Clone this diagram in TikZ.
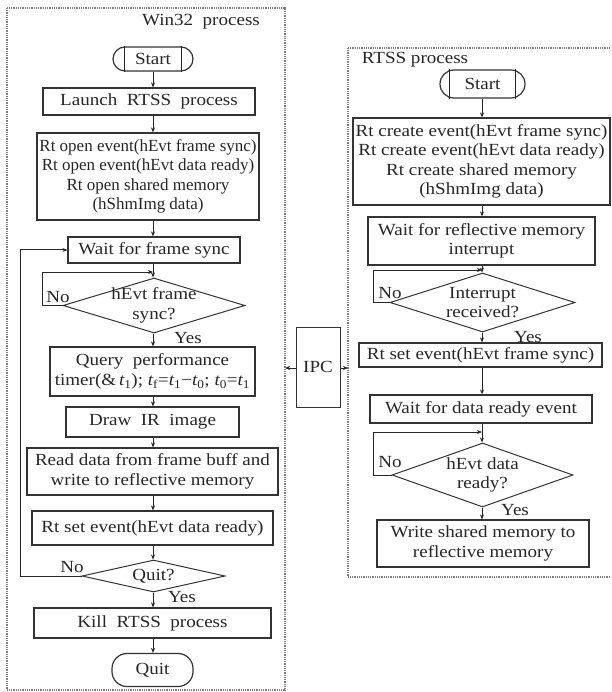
\documentclass[tikz,border=0pt]{standalone}
\usepackage{fontspec}
\setmainfont{Liberation Serif}
\newfontfamily\widefont[FakeStretch=1.12]{Liberation Serif}
\usetikzlibrary{shapes.geometric,arrows.meta}
\newcommand{\tv}[1]{{\itshape t}\textsubscript{#1}}
\begin{document}
\begin{tikzpicture}[x=1pt,y=-1pt,
  every node/.style={font=\widefont\fontsize{17}{19.5}\selectfont, text=black!85},
  plainfont/.style={font=\rmfamily\fontsize{17}{19.5}\selectfont},
  box/.style={draw=black!80, line width=1.2pt, inner sep=0pt, align=center},
  dec/.style={draw=black!80, line width=1pt, shape=diamond, inner sep=0pt},
  dtext/.style={align=center, inner sep=0pt},
  lbl/.style={inner sep=0pt},
  arr/.style={-{Stealth[length=5pt,width=4pt]}, line width=1pt, draw=black!85},
  ln/.style={line width=1pt, draw=black!85},
  frm/.style={draw=black!50, dash pattern=on 1pt off 0.8pt, line width=1.2pt}]
\useasboundingbox (0,0) rectangle (611,692);
\begin{scope}
\clip (0,0) rectangle (611,692);
% frames
\draw[frm] (7,8) rectangle (285,690);
\draw[frm] (348,48) rectangle (625,577);
\end{scope}
\node[lbl] (win) at (201,22) {Win32\ \ process};
\node[lbl] (rtss) at (415,60) {RTSS process};

% ---------- left column ----------
\node[box, rounded corners=12pt, minimum width=80pt, minimum height=24pt] (s1) at (153,59) {Start};
\draw[ln] ([xshift=12pt]s1.north west) -- ([xshift=12pt]s1.south west);
\draw[ln] ([xshift=-12pt]s1.north east) -- ([xshift=-12pt]s1.south east);
\node[box, minimum width=212pt, minimum height=27pt] (launch) at (149,101.5) {Launch\ \ RTSS\ \ process};
\node[box, plainfont, minimum width=222pt, minimum height=87pt] (open) at (148,176.5) {Rt open event(hEvt frame sync)\\Rt open event(hEvt data ready)\\Rt open shared memory\\(hShmImg data)};
\node[box, minimum width=172pt, minimum height=26pt] (waitfs) at (154,250) {Wait\ for\ frame\ sync};
\node[dec, minimum width=182pt, minimum height=55pt] (d1) at (154,305.5) {};
\node[dtext] (d1t) at (154,305.5) {hEvt\ frame\\sync?};
\node[box, minimum width=205pt, minimum height=49pt] (query) at (152.5,371.5) {Query\ \ performance\\timer(\&\,\tv{1}); \tv{f}=\tv{1}−\tv{0}; \tv{0}=\tv{1}};
\node[box, minimum width=173pt, minimum height=30pt] (draw) at (152.5,422) {Draw\ \ IR\ \ image};
\node[box, minimum width=251pt, minimum height=47pt] (read) at (152.5,471.5) {Read data from frame buff and\\write to reflective memory};
\node[box, minimum width=241pt, minimum height=34pt] (setev) at (152.5,528) {Rt set event(hEvt data ready)};
\node[dec, minimum width=143pt, minimum height=32pt] (d2) at (153.5,576) {};
\node[dtext] (d2t) at (153.5,576) {Quit?};
\node[box, minimum width=237pt, minimum height=30pt] (kill) at (152.5,623) {Kill\ \ RTSS\ \ process};
\node[box, rounded corners=15pt, minimum width=81pt, minimum height=33pt] (quit) at (152.5,670) {Quit};

\coordinate (c1) at (153,272);
\draw[arr] (s1.south) -- (launch.north -| s1.south);
\draw[arr] (launch.south -| 153,0) -- (open.north -| 153,0);
\draw[arr] (open.south -| 153,0) -- (waitfs.north -| 153,0);
\draw[arr] (waitfs.south -| 153,0) -- (d1.north -| 153,0);
\draw[arr] (d1.south -| 153,0) -- (query.north -| 153,0);
\draw[arr] (query.south -| 153,0) -- (draw.north -| 153,0);
\draw[arr] (draw.south -| 153,0) -- (read.north -| 153,0);
\draw[arr] (read.south -| 153,0) -- (setev.north -| 153,0);
\draw[arr] (setev.south -| 153,0) -- (d2.north -| 153,0);
\draw[arr] (d2.south -| 153,0) -- (kill.north -| 153,0);
\draw[arr] (kill.south -| 153,0) -- (quit.north -| 153,0);
\draw[arr] (d1.west) -- (42,305.5) |- (c1);
\draw[arr] (d2.west) -- (20,576) |- (waitfs.west);
\node[lbl] (no1) at (58,297) {No};
\node[lbl] (yes1) at (188,338) {Yes};
\node[lbl] (no2) at (72,567) {No};
\node[lbl] (yes2) at (182,597) {Yes};

% ---------- IPC ----------
\node[box, line width=1pt, minimum width=44pt, minimum height=80pt] (ipc) at (318,367) {IPC};
\coordinate (lf) at (285,368);
\coordinate (rf) at (348,368);
\draw[arr] (ipc.west |- lf) -- (lf);
\draw[arr] (ipc.east |- rf) -- (rf);

% ---------- right column ----------
\node[box, rounded corners=14pt, minimum width=85pt, minimum height=28pt] (s2) at (482.5,84) {Start};
\draw[ln] ([xshift=10pt]s2.north west) -- ([xshift=10pt]s2.south west);
\draw[ln] ([xshift=-10pt]s2.north east) -- ([xshift=-10pt]s2.south east);
\node[box, minimum width=257pt, minimum height=87pt] (create) at (481.5,161.5) {Rt create event(hEvt frame sync)\\Rt create event(hEvt data ready)\\Rt create shared memory\\(hShmImg data)};
\node[box, minimum width=227pt, minimum height=48pt] (waitrm) at (481.5,241) {Wait for reflective memory\\interrupt};
\node[dec, minimum width=185pt, minimum height=59pt] (d3) at (482.5,302.5) {};
\node[dtext] (d3t) at (482.5,302.5) {Interrupt\\received?};
\node[box, minimum width=243pt, minimum height=24pt] (setfs) at (480.5,355) {Rt set event(hEvt frame sync)};
\node[box, minimum width=222pt, minimum height=28pt] (waitdr) at (481,409) {Wait for data ready event};
\node[dec, minimum width=181pt, minimum height=64pt] (d4) at (482.5,475) {};
\node[dtext] (d4t) at (482.5,475) {hEvt\ data\\ready?};
\node[box, minimum width=212pt, minimum height=47pt] (writesm) at (483,543.5) {Write shared memory to\\reflective memory};

\coordinate (c3) at (482,270);
\coordinate (c4) at (482,432);
\draw[arr] (s2.south -| 482,0) -- (create.north -| 482,0);
\draw[arr] (create.south -| 482,0) -- (waitrm.north -| 482,0);
\draw[arr] (waitrm.south -| 482,0) -- (d3.north -| 482,0);
\draw[arr] (d3.south -| 482,0) -- (setfs.north -| 482,0);
\draw[arr] (setfs.south -| 482,0) -- (waitdr.north -| 482,0);
\draw[arr] (waitdr.south -| 482,0) -- (d4.north -| 482,0);
\draw[arr] (d4.south -| 482,0) -- (writesm.north -| 482,0);
\draw[arr] (d3.west) -- (373,302.5) |- (c3);
\draw[arr] (d4.west) -- (373,475) |- (c4);
\node[lbl] (no3) at (390,293) {No};
\node[lbl] (yes3) at (528,337) {Yes};
\node[lbl] (no4) at (390,462) {No};
\node[lbl] (yes4) at (515,510) {Yes};
\end{tikzpicture}
\end{document}
